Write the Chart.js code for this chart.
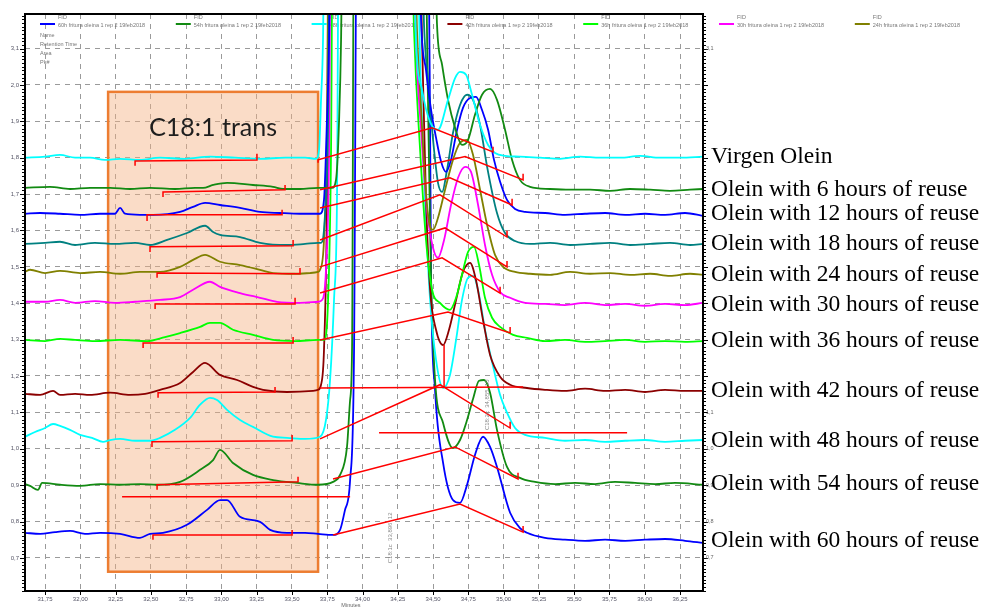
<!DOCTYPE html>
<html>
<head>
<meta charset="utf-8">
<title>Oleina - C18:1 trans</title>
<script src="https://cdn.jsdelivr.net/npm/chart.js@4.4.0/dist/chart.umd.min.js"></script>
<style>
html,body{margin:0;padding:0;background:#fff;}
</style>
</head>
<body>
<canvas id="grafico" width="984" height="610"></canvas>
<script>
// eixos
const xTicks=[31.75,32.00,32.25,32.50,32.75,33.00,33.25,33.50,33.75,34.00,34.25,34.50,34.75,35.00,35.25,35.50,35.75,36.00,36.25];
const xLabels=["31,75","32,00","32,25","32,50","32,75","33,00","33,25","33,50","33,75","34,00","34,25","34,50","34,75","35,00","35,25","35,50","35,75","36,00","36,25"];
const yTicks=[0.7,0.8,0.9,1.0,1.1,1.2,1.3,1.4,1.5,1.6,1.7,1.8,1.9,2.0,2.1];
const yLabels=["0,7","0,8","0,9","1,0","1,1","1,2","1,3","1,4","1,5","1,6","1,7","1,8","1,9","2,0","3,1"];
const yDirTicks=[2.1,1.1,1.0,0.9,0.8,0.7];
const yDirLabels=["3,1","1,1","1,0","0,9","0,8","0,7"];

// cromatogramas: [tempo (min), sinal]
const virgen=[[31.608,1.800],[31.750,1.803],[31.856,1.808],[31.963,1.800],[32.069,1.800],[32.175,1.794],[32.282,1.797],[32.423,1.794],[32.565,1.800],[32.742,1.797],[32.919,1.803],[33.097,1.800],[33.274,1.797],[33.451,1.800],[33.593,1.800],[33.671,1.797],[33.692,1.822],[33.706,1.959],[33.720,2.124],[33.734,2.6],[34.351,2.6],[34.379,2.124],[34.422,1.986],[34.479,1.898],[34.535,1.877],[34.606,1.959],[34.656,2.019],[34.691,2.036],[34.734,2.028],[34.776,1.973],[34.833,1.890],[34.890,1.835],[34.939,1.813],[35.010,1.805],[35.116,1.803],[35.258,1.800],[35.400,1.797],[35.542,1.803],[35.683,1.800],[35.825,1.800],[35.967,1.805],[36.109,1.800],[36.250,1.800],[36.413,1.803]];
const h06=[[31.608,1.717],[31.785,1.720],[31.927,1.714],[32.069,1.717],[32.211,1.717],[32.352,1.714],[32.494,1.717],[32.671,1.714],[32.813,1.717],[32.870,1.717],[32.941,1.725],[33.040,1.731],[33.224,1.725],[33.366,1.720],[33.437,1.714],[33.557,1.714],[33.685,1.717],[33.784,1.717],[33.812,1.739],[33.834,1.904],[33.848,2.124],[33.862,2.6],[34.500,2.6],[34.528,2.165],[34.564,2.055],[34.606,1.959],[34.656,1.882],[34.705,1.835],[34.748,1.849],[34.797,1.918],[34.847,1.973],[34.904,1.989],[34.953,1.959],[35.010,1.877],[35.060,1.794],[35.116,1.739],[35.187,1.720],[35.329,1.714],[35.471,1.712],[35.613,1.712],[35.754,1.709],[35.896,1.714],[36.038,1.712],[36.179,1.709],[36.321,1.712],[36.413,1.714]];
const h12=[[31.608,1.646],[31.715,1.648],[31.856,1.646],[31.998,1.643],[32.140,1.646],[32.246,1.646],[32.282,1.662],[32.317,1.646],[32.423,1.643],[32.515,1.643],[32.707,1.651],[32.799,1.665],[32.884,1.676],[32.990,1.670],[33.132,1.662],[33.274,1.651],[33.415,1.648],[33.557,1.646],[33.699,1.646],[33.727,1.684],[33.748,1.904],[33.763,2.124],[33.777,2.6],[34.393,2.6],[34.415,2.179],[34.450,2.041],[34.486,1.931],[34.521,1.855],[34.557,1.789],[34.592,1.761],[34.627,1.794],[34.670,1.877],[34.712,1.937],[34.762,1.964],[34.804,1.967],[34.847,1.931],[34.890,1.877],[34.932,1.794],[34.975,1.734],[35.024,1.684],[35.081,1.659],[35.152,1.651],[35.294,1.648],[35.435,1.643],[35.577,1.646],[35.719,1.648],[35.861,1.643],[36.002,1.646],[36.144,1.643],[36.286,1.648],[36.413,1.640]];
const h18=[[31.608,1.563],[31.750,1.566],[31.856,1.569],[31.963,1.560],[32.104,1.566],[32.246,1.563],[32.388,1.566],[32.494,1.560],[32.615,1.574],[32.756,1.593],[32.884,1.613],[32.941,1.596],[32.990,1.588],[33.132,1.582],[33.274,1.566],[33.465,1.560],[33.593,1.563],[33.685,1.566],[33.706,1.566],[33.734,1.643],[33.756,1.904],[33.770,2.6],[34.408,2.6],[34.436,2.165],[34.464,2.014],[34.500,1.849],[34.535,1.731],[34.564,1.706],[34.599,1.767],[34.641,1.868],[34.691,1.945],[34.741,1.973],[34.783,1.959],[34.833,1.890],[34.883,1.775],[34.953,1.648],[35.010,1.593],[35.081,1.571],[35.187,1.563],[35.329,1.566],[35.471,1.560],[35.613,1.563],[35.754,1.566],[35.896,1.560],[36.038,1.563],[36.179,1.566],[36.321,1.560],[36.413,1.563]];
const h24=[[31.608,1.486],[31.644,1.492],[31.750,1.483],[31.856,1.489],[31.998,1.483],[32.140,1.486],[32.282,1.481],[32.423,1.486],[32.565,1.486],[32.707,1.500],[32.799,1.519],[32.884,1.533],[32.990,1.514],[33.132,1.505],[33.274,1.492],[33.366,1.483],[33.522,1.481],[33.628,1.483],[33.685,1.486],[33.699,1.492],[33.727,1.574],[33.748,1.877],[33.763,2.6],[34.358,2.6],[34.386,2.151],[34.415,1.931],[34.443,1.739],[34.471,1.624],[34.500,1.602],[34.535,1.635],[34.585,1.712],[34.641,1.794],[34.691,1.841],[34.741,1.849],[34.783,1.808],[34.833,1.712],[34.883,1.615],[34.939,1.533],[34.996,1.500],[35.081,1.486],[35.187,1.481],[35.329,1.478],[35.471,1.486],[35.613,1.481],[35.754,1.483],[35.896,1.478],[36.038,1.481],[36.179,1.475],[36.321,1.481],[36.413,1.478]];
const h30=[[31.608,1.404],[31.750,1.404],[31.856,1.409],[31.963,1.401],[32.104,1.406],[32.246,1.401],[32.388,1.404],[32.565,1.409],[32.707,1.417],[32.799,1.437],[32.919,1.459],[32.990,1.445],[33.132,1.428],[33.274,1.415],[33.394,1.404],[33.557,1.401],[33.685,1.404],[33.713,1.409],[33.741,1.492],[33.763,1.822],[33.777,2.6],[34.351,2.6],[34.379,2.124],[34.415,1.877],[34.457,1.657],[34.500,1.552],[34.535,1.525],[34.578,1.574],[34.627,1.670],[34.677,1.745],[34.727,1.775],[34.769,1.761],[34.819,1.670],[34.868,1.560],[34.918,1.478],[34.975,1.431],[35.046,1.415],[35.152,1.401],[35.294,1.398],[35.435,1.395],[35.577,1.401],[35.719,1.395],[35.861,1.398],[36.002,1.393],[36.144,1.398],[36.286,1.395],[36.413,1.401]];
const h36=[[31.608,1.299],[31.750,1.296],[31.856,1.302],[31.963,1.299],[32.104,1.296],[32.282,1.299],[32.473,1.296],[32.600,1.307],[32.707,1.318],[32.849,1.335],[32.919,1.346],[32.990,1.346],[33.082,1.327],[33.224,1.313],[33.366,1.299],[33.522,1.296],[33.685,1.299],[33.727,1.299],[33.756,1.409],[33.777,1.822],[33.791,2.6],[34.337,2.6],[34.365,2.151],[34.408,1.822],[34.450,1.574],[34.493,1.437],[34.549,1.401],[34.620,1.382],[34.663,1.415],[34.705,1.478],[34.748,1.541],[34.790,1.555],[34.826,1.505],[34.868,1.415],[34.918,1.360],[34.975,1.335],[35.067,1.313],[35.166,1.305],[35.294,1.296],[35.435,1.299],[35.577,1.294],[35.719,1.296],[35.861,1.299],[36.002,1.294],[36.144,1.296],[36.286,1.294],[36.413,1.296]];
const h42=[[31.608,1.151],[31.715,1.148],[31.807,1.159],[31.856,1.148],[31.963,1.151],[32.069,1.148],[32.211,1.154],[32.352,1.148],[32.459,1.151],[32.565,1.162],[32.707,1.181],[32.799,1.211],[32.884,1.236],[32.990,1.203],[33.111,1.189],[33.224,1.170],[33.295,1.162],[33.465,1.156],[33.649,1.159],[33.685,1.162],[33.706,1.176],[33.727,1.272],[33.748,1.684],[33.763,2.6],[34.393,2.6],[34.422,2.124],[34.450,1.684],[34.479,1.437],[34.521,1.327],[34.571,1.285],[34.613,1.327],[34.663,1.409],[34.712,1.486],[34.762,1.511],[34.804,1.464],[34.854,1.354],[34.904,1.258],[34.975,1.198],[35.046,1.176],[35.166,1.167],[35.294,1.162],[35.435,1.159],[35.577,1.165],[35.719,1.159],[35.861,1.162],[36.002,1.156],[36.144,1.162],[36.286,1.159],[36.413,1.159]];
const h48=[[31.608,1.033],[31.679,1.046],[31.750,1.057],[31.807,1.068],[31.856,1.063],[31.927,1.052],[31.998,1.038],[32.083,1.030],[32.161,1.019],[32.211,1.024],[32.282,1.027],[32.388,1.022],[32.494,1.022],[32.565,1.030],[32.671,1.052],[32.778,1.085],[32.849,1.121],[32.919,1.140],[32.969,1.134],[33.040,1.107],[33.132,1.079],[33.224,1.060],[33.366,1.033],[33.465,1.030],[33.593,1.027],[33.699,1.033],[33.741,1.079],[33.770,1.189],[33.798,1.409],[33.819,1.684],[33.834,2.6],[34.379,2.6],[34.408,2.069],[34.443,1.684],[34.479,1.409],[34.521,1.244],[34.571,1.167],[34.620,1.203],[34.663,1.299],[34.705,1.409],[34.748,1.470],[34.783,1.475],[34.826,1.423],[34.868,1.327],[34.918,1.239],[34.975,1.148],[35.024,1.099],[35.081,1.057],[35.152,1.038],[35.294,1.030],[35.435,1.022],[35.577,1.024],[35.719,1.019],[35.861,1.022],[36.002,1.024],[36.144,1.019],[36.286,1.022],[36.413,1.024]];
const h54=[[31.608,0.903],[31.644,0.898],[31.700,0.887],[31.729,0.906],[31.856,0.901],[31.998,0.898],[32.140,0.903],[32.282,0.901],[32.423,0.903],[32.544,0.901],[32.707,0.909],[32.849,0.942],[32.941,0.969],[32.990,0.997],[33.082,0.961],[33.224,0.928],[33.366,0.914],[33.536,0.906],[33.685,0.901],[33.791,0.909],[33.841,0.928],[33.890,1.005],[33.912,1.134],[33.926,1.280],[33.940,2.6],[34.436,2.6],[34.464,1.959],[34.486,1.464],[34.514,1.189],[34.571,1.071],[34.641,1.002],[34.691,1.024],[34.741,1.079],[34.783,1.137],[34.826,1.187],[34.861,1.189],[34.904,1.154],[34.953,1.052],[35.024,0.950],[35.116,0.920],[35.223,0.909],[35.365,0.903],[35.506,0.906],[35.648,0.903],[35.790,0.909],[35.932,0.906],[36.073,0.903],[36.215,0.906],[36.413,0.901]];
const h60=[[31.608,0.769],[31.715,0.766],[31.821,0.771],[31.927,0.774],[32.033,0.766],[32.140,0.769],[32.282,0.766],[32.423,0.755],[32.494,0.766],[32.586,0.769],[32.756,0.791],[32.898,0.832],[32.990,0.859],[33.040,0.859],[33.132,0.813],[33.274,0.799],[33.345,0.777],[33.465,0.769],[33.593,0.769],[33.685,0.766],[33.791,0.763],[33.841,0.777],[33.876,0.832],[33.912,0.914],[33.940,1.272],[33.961,2.6],[34.464,2.6],[34.486,1.464],[34.514,1.162],[34.571,0.961],[34.641,0.859],[34.691,0.851],[34.741,0.901],[34.797,0.983],[34.854,1.033],[34.904,1.005],[34.953,0.950],[35.046,0.824],[35.116,0.782],[35.166,0.769],[35.294,0.755],[35.435,0.750],[35.577,0.747],[35.719,0.750],[35.861,0.747],[36.002,0.750],[36.144,0.752],[36.286,0.747],[36.413,0.741]];

const nomes=["Virgen Olein","Olein with 6 hours of reuse","Olein with 12 hours of reuse","Olein with 18 hours of reuse","Olein with 24 hours of reuse","Olein with 30 hours of reuse","Olein with 36 hours of reuse","Olein with 42 hours of reuse","Olein with 48 hours of reuse","Olein with 54 hours of reuse","Olein with 60 hours of reuse"];
const series=[virgen,h06,h12,h18,h24,h30,h36,h42,h48,h54,h60];
const cores=["#00ffff","#128a12","#0000ff","#008080","#808000","#ff00ff","#00ff00","#8b0000","#00ffff","#128a12","#0000ff"];

// linhas de base da integracao
const linhasBase=[
[[32.388,1.778],[32.388,1.791],[33.252,1.794],[33.252,1.811]],
[[32.586,1.692],[32.586,1.706],[33.451,1.712],[33.451,1.725]],
[[32.473,1.626],[32.473,1.643],[33.430,1.643],[33.430,1.657]],
[[32.494,1.541],[32.494,1.555],[33.508,1.558],[33.508,1.574]],
[[32.544,1.470],[32.544,1.483],[33.557,1.481],[33.557,1.497]],
[[32.530,1.384],[32.530,1.398],[33.522,1.398],[33.522,1.415]],
[[32.445,1.277],[32.445,1.291],[33.508,1.291],[33.508,1.307]],
[[32.551,1.140],[32.551,1.154],[33.380,1.156],[33.380,1.170]],
[[32.508,1.005],[32.508,1.019],[33.501,1.022],[33.501,1.038]],
[[32.544,0.887],[32.544,0.901],[33.543,0.909],[33.543,0.923]],
[[32.296,0.868],[33.912,0.868]],
[[32.515,0.750],[32.515,0.763],[33.501,0.763],[33.501,0.777]],
[[33.685,1.786],[33.685,1.794],[34.493,1.882],[34.925,1.816],[34.925,1.830]],
[[33.699,1.712],[34.727,1.803],[35.138,1.739],[35.138,1.756]],
[[33.699,1.662],[34.620,1.745],[35.060,1.670],[35.060,1.687]],
[[33.699,1.574],[34.549,1.698],[35.024,1.582],[35.024,1.599]],
[[33.699,1.500],[34.585,1.607],[35.024,1.500],[35.024,1.516]],
[[33.699,1.428],[34.564,1.525],[34.975,1.428],[34.975,1.445]],
[[33.699,1.299],[34.606,1.376],[35.046,1.318],[35.046,1.335]],
[[33.699,1.167],[35.138,1.170]],
[[34.578,1.170],[34.578,1.285]],
[[33.699,1.027],[34.549,1.176],[35.046,1.057],[35.046,1.074]],
[[34.117,1.044],[35.875,1.044]],
[[33.791,0.917],[34.656,1.005],[35.102,0.917],[35.102,0.934]],
[[33.791,0.763],[34.691,0.848],[35.138,0.771],[35.138,0.788]]
];

// legenda do software (topo)
const legendaTxt=["60h fritura oleina 1 rep 2 19feb2018","54h fritura oleina 1 rep 2 19feb2018","48h fritura oleina 1 rep 2 19feb2018","42h fritura oleina 1 rep 2 19feb2018","36h fritura oleina 1 rep 2 19feb2018","30h fritura oleina 1 rep 2 19feb2018","24h fritura oleina 1 rep 2 19feb2018"];
const legendaCor=["#0000ff","#128a12","#00ffff","#8b0000","#00ff00","#ff00ff","#808000"];

const datasets=[];
linhasBase.forEach(seg=>{
datasets.push({data:seg,borderColor:"#ff0000",borderWidth:1.5,pointRadius:0,tension:0,order:0});
});
series.forEach((s,i)=>{
datasets.push({label:nomes[i],data:s,borderColor:cores[i],borderWidth:1.8,pointRadius:0,cubicInterpolationMode:"monotone",order:1});
});

const extras={
id:"extras",
beforeDatasetsDraw(chart){
const {ctx,chartArea:a,scales:{x,y}}=chart;
ctx.save();
const bx0=x.getPixelForValue(32.197),bx1=x.getPixelForValue(33.685);
const by0=y.getPixelForValue(1.981),by1=y.getPixelForValue(0.662);
ctx.fillStyle="rgba(244,177,131,0.45)";
ctx.fillRect(bx0,by0,bx1-bx0,by1-by0);
ctx.lineWidth=2.5;
ctx.strokeStyle="#ED7D31";
ctx.strokeRect(bx0,by0,bx1-bx0,by1-by0);
ctx.fillStyle="#1e1e1e";
ctx.font="25px Lato";
ctx.textAlign="center";
ctx.textBaseline="middle";
ctx.fillText("C18:1 trans",(bx0+bx1)/2,y.getPixelForValue(1.882));

ctx.textAlign="left";
legendaTxt.forEach((t,i)=>{
const lx=40+i*135.8;
ctx.strokeStyle=legendaCor[i];
ctx.lineWidth=2;
ctx.beginPath();ctx.moveTo(lx,a.top+10);ctx.lineTo(lx+15,a.top+10);ctx.stroke();
ctx.fillStyle="#777";
ctx.font="5.5px 'Liberation Sans'";
ctx.fillText("FID",lx+18,a.top+3);
ctx.fillText(t,lx+18,a.top+11);
});
["Name","Retention Time","Area","Pk#"].forEach((t,i)=>ctx.fillText(t,40,a.top+21+i*9));
ctx.restore();
},
afterDatasetsDraw(chart){
const {ctx,scales:{x,y}}=chart;
ctx.save();
ctx.fillStyle="#888";
ctx.font="6px 'Liberation Sans'";
ctx.textBaseline="middle";
ctx.textAlign="center";
[["C18:1c  33,896  12",34.195,0.755],["C18:2c  34,855  10",34.883,1.121]].forEach(([t,tx,ty])=>{
ctx.save();
ctx.translate(x.getPixelForValue(tx),y.getPixelForValue(ty));
ctx.rotate(-Math.PI/2);
ctx.fillText(t,0,0);
ctx.restore();
});
ctx.restore();
},
afterDraw(chart){
const {ctx,chartArea:a,scales:{x,y}}=chart;
ctx.save();
// moldura
ctx.strokeStyle="#000";
ctx.lineWidth=2;
ctx.strokeRect(a.left,a.top,a.right-a.left,a.bottom-a.top);
ctx.lineWidth=1;
ctx.beginPath();
for(let v=0.61;v<2.195;v+=0.01){
const py=Math.round(y.getPixelForValue(v))+0.5;
const big=Math.abs(v*10-Math.round(v*10))<0.001;
ctx.moveTo(a.left-(big?5:3),py);ctx.lineTo(a.left,py);
ctx.moveTo(a.right,py);ctx.lineTo(a.right+(big?5:3),py);
}
xTicks.forEach(v=>{
const px=Math.round(x.getPixelForValue(v))+0.5;
ctx.moveTo(px,a.bottom);ctx.lineTo(px,a.bottom+4);
});
ctx.stroke();
// eixo da direita
ctx.fillStyle="#666";
ctx.font="5.5px 'Liberation Sans'";
ctx.textAlign="left";
ctx.textBaseline="middle";
yDirTicks.forEach((v,i)=>ctx.fillText(yDirLabels[i],a.right+3,y.getPixelForValue(v)));
ctx.fillText("Minutes",x.getPixelForValue(33.85),a.bottom+14);
// rotulos das amostras
ctx.fillStyle="#000";
ctx.font="23.5px 'Liberation Serif'";
series.forEach((s,i)=>{
const fim=s.slice(-6);
const m=fim.reduce((p,c)=>p+c[1],0)/fim.length;
ctx.fillText(nomes[i],a.right+8,y.getPixelForValue(m));
});
ctx.restore();
}
};

new Chart(document.getElementById("grafico"),{
type:"line",
data:{datasets:datasets},
options:{
responsive:false,
animation:false,
devicePixelRatio:1,
events:[],
layout:{padding:{top:14,right:281,left:0,bottom:0}},
plugins:{legend:{display:false},tooltip:{enabled:false}},
scales:{
x:{
type:"linear",
min:31.608,max:36.413,
afterBuildTicks:s=>{s.ticks=xTicks.map(v=>({value:v}));},
afterFit:s=>{s.height=19;},
ticks:{callback:(v,i)=>xLabels[i],font:{size:6,family:"Liberation Sans"},color:"#556",padding:5,maxRotation:0,autoSkip:false},
grid:{color:"#9a9a9a",lineWidth:1,drawTicks:false},
border:{display:false,dash:[5,5]}
},
y:{
type:"linear",
min:0.609,max:2.195,
afterBuildTicks:s=>{s.ticks=yTicks.map(v=>({value:v}));},
afterFit:s=>{s.width=25;},
ticks:{callback:(v,i)=>yLabels[i],font:{size:6,family:"Liberation Sans"},color:"#556",padding:6,autoSkip:false},
grid:{color:"#9a9a9a",lineWidth:1,drawTicks:false},
border:{display:false,dash:[5,5]}
}
}
},
plugins:[extras]
});
</script>
</body>
</html>
